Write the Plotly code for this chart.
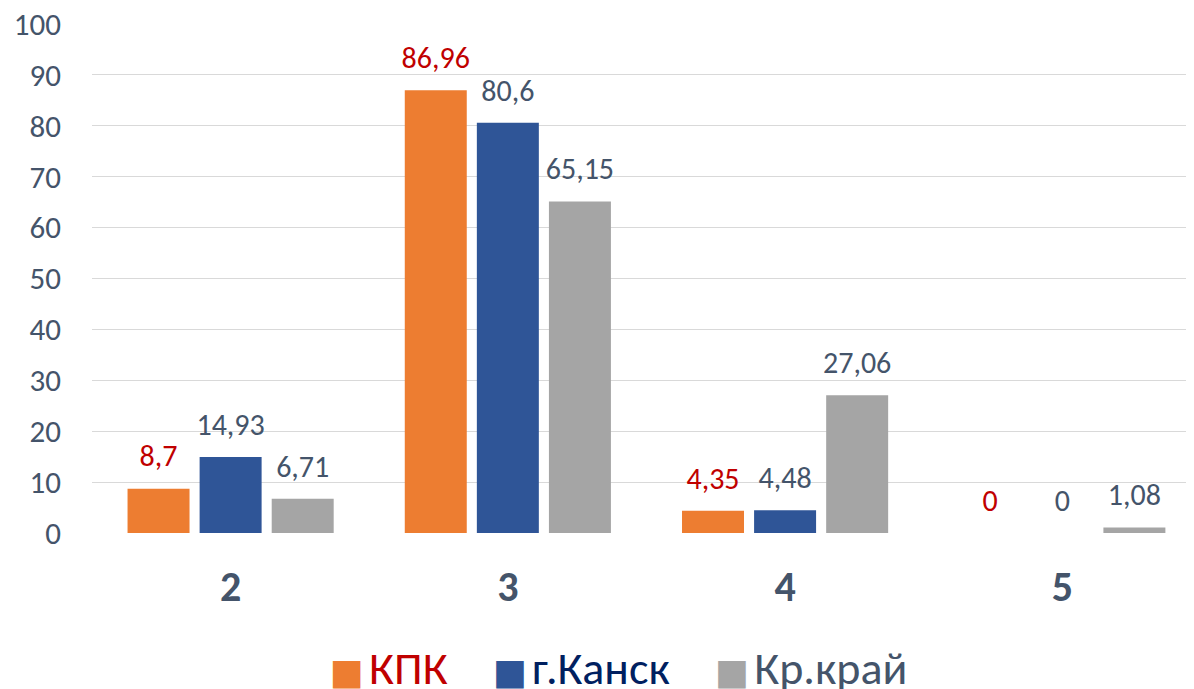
import plotly.graph_objects as go

categories = ["2", "3", "4", "5"]
kpk = [8.7, 86.96, 4.35, 0]
kansk = [14.93, 80.6, 4.48, 0]
krai = [6.71, 65.15, 27.06, 1.08]
series_names = ["КПК", "г.Канск", "Кр.край"]
y_ticks = [0, 10, 20, 30, 40, 50, 60, 70, 80, 90, 100]

bar_colors = ["#ED7D31", "#2F5597", "#A5A5A5"]
label_colors = ["#C00000", "#44546A", "#44546A"]
legend_text_colors = ["#C00000", "#002060", "#44546A"]
FONT = "Carlito, Lato, 'Noto Sans', sans-serif"


def fmt(v):
    return ("%g" % v).replace(".", ",")


fig = go.Figure()
for i, (name, vals, bc) in enumerate(zip(series_names, [kpk, kansk, krai], bar_colors)):
    fig.add_trace(go.Bar(
        x=categories, y=vals, name=name, marker=dict(color=bc, line=dict(width=0)),
        offsetgroup=str(i), showlegend=False, hoverinfo="skip",
    ))

for i, (name, vals, lc) in enumerate(zip(series_names, [kpk, kansk, krai], label_colors)):
    fig.add_trace(go.Scatter(
        x=categories, y=vals, mode="markers+text", offsetgroup=str(i),
        marker=dict(size=22, color="rgba(0,0,0,0)"),
        text=[fmt(v) for v in vals], textposition="top center", cliponaxis=False,
        textfont=dict(color=lc, size=30, family=FONT), showlegend=False,
    ))

for name, bc, tc in zip(series_names, bar_colors, legend_text_colors):
    fig.add_trace(go.Scatter(
        x=[None], y=[None], mode="markers",
        name=(f"<span style='color:{bc};font-size:36px;font-family:DejaVu Sans'>■</span>"
              f"<span style='font-size:24px'> </span><span style='color:{tc}'>{name}</span>"),
        marker=dict(size=1, color="rgba(0,0,0,0)"), showlegend=True,
    ))

# the page body adds an 8px offset, so margins are set 8px smaller on the left/top
fig.update_layout(
    width=1194, height=689,
    margin=dict(l=84, r=8, t=16, b=164, autoexpand=False),
    paper_bgcolor="white", plot_bgcolor="white",
    barmode="group", bargap=0.22, bargroupgap=0.14,
    scattermode="group", scattergap=0.22,
    font=dict(family=FONT, color="#44546A"),
    legend=dict(orientation="h", x=0.462, xanchor="center", y=-0.262, yanchor="middle",
                font=dict(size=46, family=FONT), itemsizing="trace", itemwidth=30,
                traceorder="normal"),
)
fig.update_yaxes(range=[0, 100], tickvals=y_ticks, showgrid=True, gridcolor="#D9D9D9",
                 gridwidth=1, zeroline=False, showline=False, automargin=False,
                 ticklabeloverflow="allow",
                 tickfont=dict(size=31, color="#44546A", family=FONT), ticklabelstandoff=30)
fig.update_xaxes(range=[-0.5, 3.475], showline=False, showgrid=False, automargin=False,
                 ticklabeloverflow="allow",
                 ticks="outside", ticklen=17, tickcolor="rgba(0,0,0,0)",
                 tickfont=dict(size=42, color="#44546A", family=FONT, weight="bold"))

fig.write_html("out.html")
